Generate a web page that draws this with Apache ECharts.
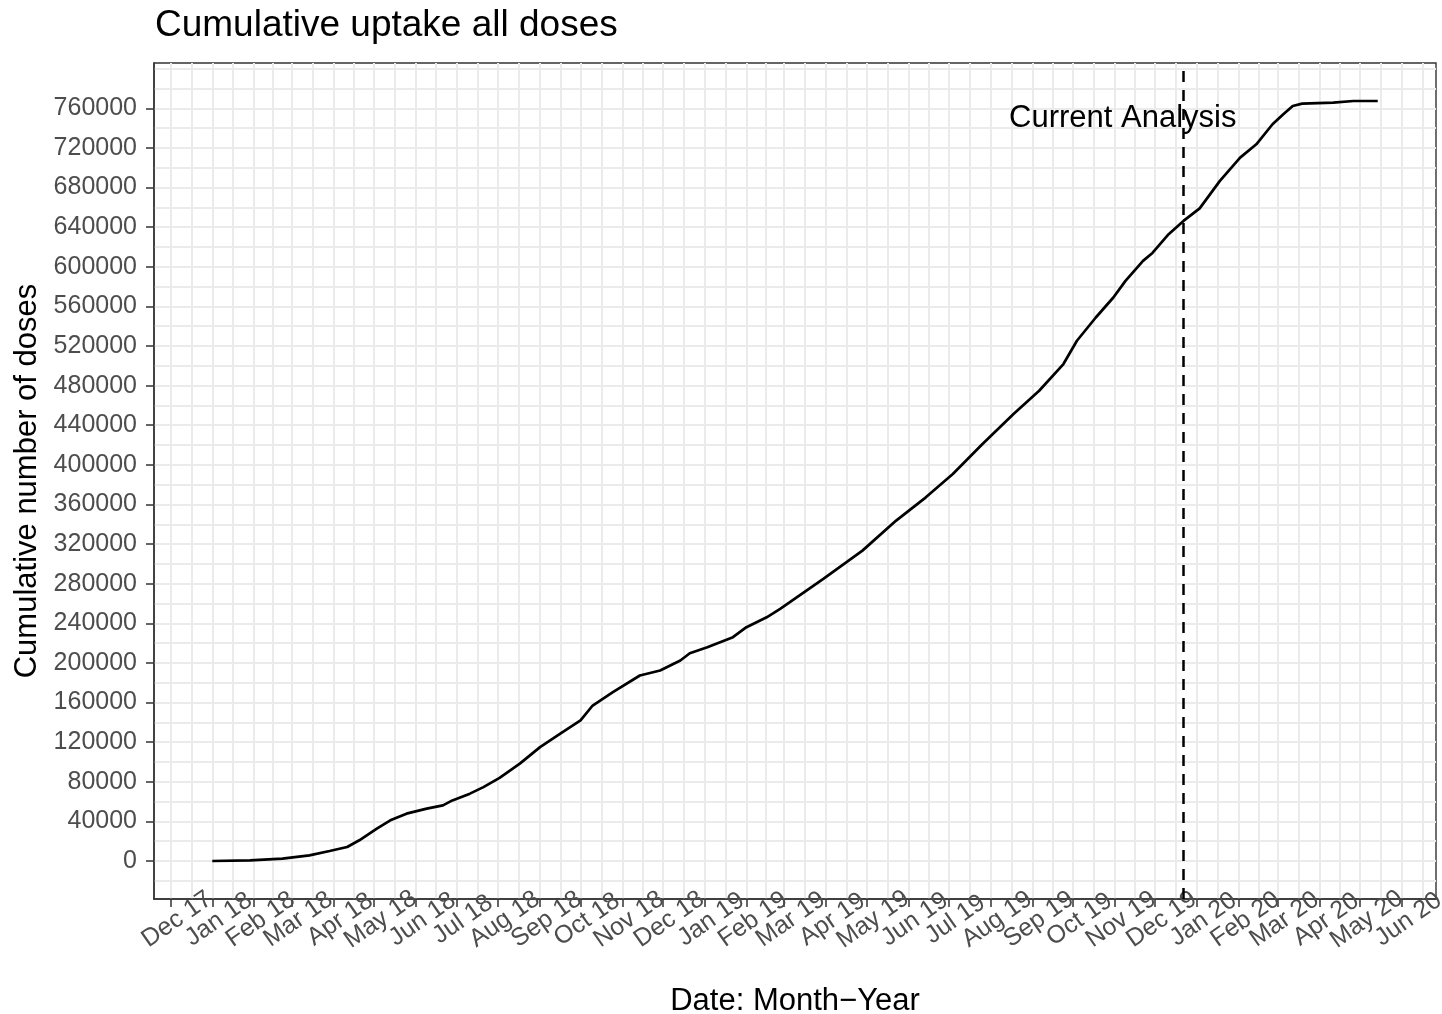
<!DOCTYPE html>
<html>
<head>
<meta charset="utf-8">
<script src="https://cdn.jsdelivr.net/npm/echarts@6/dist/echarts.min.js"></script>
<style>
html,body{margin:0;padding:0;background:#ffffff;}
#chart{width:1442px;height:1014px;}
</style>
</head>
<body>
<div id="chart"></div>
<script>
// ---------------- data ----------------
const chartTitle = 'Cumulative uptake all doses';
const xAxisTitle = 'Date: Month\u2212Year';
const yAxisTitle = 'Cumulative number of doses';

const dates = [
  '2018-01-01','2018-01-29','2018-02-22','2018-03-14','2018-03-29','2018-04-11','2018-04-20',
  '2018-05-03','2018-05-13','2018-05-25','2018-06-09','2018-06-21','2018-06-28','2018-07-11',
  '2018-07-21','2018-08-02','2018-08-17','2018-09-01','2018-09-16','2018-10-01','2018-10-10',
  '2018-10-25','2018-11-14','2018-11-29','2018-12-14','2018-12-21','2019-01-03','2019-01-22',
  '2019-02-01','2019-02-16','2019-02-26','2019-03-30','2019-04-28','2019-05-23','2019-06-14',
  '2019-07-04','2019-07-26','2019-08-18','2019-09-06','2019-09-24','2019-10-04','2019-10-18',
  '2019-10-31','2019-11-09','2019-11-22','2019-11-29','2019-12-11','2019-12-22','2020-01-03',
  '2020-01-18','2020-02-02','2020-02-14','2020-02-26','2020-03-05','2020-03-12','2020-03-19',
  '2020-04-11','2020-04-26','2020-05-14'
];
const doses = [
  0, 700, 2400, 5700, 10100, 14100, 20900,
  32700, 41100, 47800, 52900, 56200, 61200, 68000,
  74600, 84000, 98300, 115000, 128500, 141900, 157000,
  170500, 187300, 192400, 202500, 209800, 215900, 226000,
  236100, 246100, 254600, 284900, 313400, 343700, 367200,
  390800, 421100, 451300, 474800, 501800, 525300, 548800,
  569000, 585800, 606000, 614000, 632900, 646300, 659000,
  686700, 710200, 723700, 743900, 754000, 762300, 764700,
  765700, 767400, 767400
];

const xTickDates = [
  '2017-12-01','2018-01-01','2018-02-01','2018-03-01','2018-04-01','2018-05-01','2018-06-01',
  '2018-07-01','2018-08-01','2018-09-01','2018-10-01','2018-11-01','2018-12-01','2019-01-01',
  '2019-02-01','2019-03-01','2019-04-01','2019-05-01','2019-06-01','2019-07-01','2019-08-01',
  '2019-09-01','2019-10-01','2019-11-01','2019-12-01','2020-01-01','2020-02-01','2020-03-01',
  '2020-04-01','2020-05-01','2020-06-01'
];
const xTickLabels = [
  'Dec 17','Jan 18','Feb 18','Mar 18','Apr 18','May 18','Jun 18',
  'Jul 18','Aug 18','Sep 18','Oct 18','Nov 18','Dec 18','Jan 19',
  'Feb 19','Mar 19','Apr 19','May 19','Jun 19','Jul 19','Aug 19',
  'Sep 19','Oct 19','Nov 19','Dec 19','Jan 20','Feb 20','Mar 20',
  'Apr 20','May 20','Jun 20'
];
const yTickValues = [0,40000,80000,120000,160000,200000,240000,280000,320000,360000,
  400000,440000,480000,520000,560000,600000,640000,680000,720000,760000];

const currentAnalysisDate = '2019-12-22';
const annotationText = 'Current Analysis';
const annotationDate = '2019-11-07';
const annotationValue = 750000;

// ---------------- helpers ----------------
function toMs(s){ const p = s.split('-').map(Number); return Date.UTC(p[0], p[1]-1, p[2]); }
function minorBetween(major){
  const d = major[1]-major[0];
  const ext = [major[0]-d].concat(major, [major[major.length-1]+d]);
  const out = [];
  for (let i=0;i<ext.length-1;i++){ out.push(ext[i] + (ext[i+1]-ext[i])/2); }
  out.push(ext[0]); out.push(ext[ext.length-1]);
  return out;
}

const xs = dates.map(toMs);
const xSpan = xs[xs.length-1]-xs[0];
const xMin = xs[0]-0.05*xSpan;
const xMax = xs[xs.length-1]+0.05*xSpan;
const yLo = Math.min.apply(null, doses), yHi = Math.max.apply(null, doses);
const yMin = yLo-0.05*(yHi-yLo);
const yMax = yHi+0.05*(yHi-yLo);

const xTickMs = xTickDates.map(toMs);
const xLabelsEven = xTickMs.filter((v,i) => i%2===0);
const xLabelsOdd = xTickMs.filter((v,i) => i%2===1);
const xMinorMs = minorBetween(xTickMs).filter(v => v>xMin && v<xMax);
const yMinor = minorBetween(yTickValues).filter(v => v>yMin && v<yMax);

const FONT = '"Liberation Sans", Arial, Helvetica, sans-serif';
const GRID_COLOR = '#EBEBEB';
const AXIS_COLOR = '#333333';

function xLabelFormatter(v){ const i = xTickMs.indexOf(v); return i>=0 ? xTickLabels[i] : ''; }
function xLabelStyle(values){
  return {
    show: true, customValues: values, rotate: 35, margin: 25,
    showMinLabel: true, showMaxLabel: true, hideOverlap: false,
    align: 'center', verticalAlign: 'middle', padding: [0, 0, 0, 16],
    fontFamily: FONT, fontSize: 25, color: '#4D4D4D',
    formatter: xLabelFormatter
  };
}

const chart = echarts.init(document.getElementById('chart'), null, {renderer:'canvas'});
chart.setOption({
  animation: false,
  backgroundColor: '#ffffff',
  textStyle: { fontFamily: FONT },
  title: {
    text: chartTitle,
    left: 150, top: 2,
    textStyle: { fontFamily: FONT, fontSize: 37, fontWeight: 'normal', color: '#000000' }
  },
  grid: {
    left: 154, right: 6, top: 63, bottom: 115,
    show: true, borderColor: AXIS_COLOR, borderWidth: 1.4, backgroundColor: '#ffffff',
    containLabel: false, outerBoundsMode: 'none'
  },
  xAxis: [
    {
      type: 'value', min: xMin, max: xMax, position: 'bottom',
      name: xAxisTitle, nameLocation: 'middle', nameGap: 102,
      nameTextStyle: { fontFamily: FONT, fontSize: 31, color: '#000000', align: 'center', verticalAlign: 'middle' },
      axisLine: { show: true, onZero: false, lineStyle: { color: AXIS_COLOR, width: 1.5 } },
      axisTick: { show: true, length: 8, lineStyle: { color: AXIS_COLOR, width: 1.5 }, customValues: xTickMs },
      axisLabel: xLabelStyle(xLabelsEven),
      splitLine: { show: true, lineStyle: { color: GRID_COLOR, width: 2 } }
    },
    {
      type: 'value', min: xMin, max: xMax, position: 'bottom',
      axisLine: { show: false }, axisLabel: { show: false },
      axisTick: { show: false, customValues: xMinorMs },
      splitLine: { show: true, lineStyle: { color: GRID_COLOR, width: 2 } }
    },
    {
      type: 'value', min: xMin, max: xMax, position: 'bottom',
      axisLine: { show: false },
      axisTick: { show: false, customValues: xLabelsOdd },
      axisLabel: xLabelStyle(xLabelsOdd),
      splitLine: { show: false }
    }
  ],
  yAxis: [
    {
      type: 'value', min: yMin, max: yMax, position: 'left',
      name: yAxisTitle, nameLocation: 'middle', nameGap: 127, nameRotate: 90,
      nameTextStyle: { fontFamily: FONT, fontSize: 31, color: '#000000', align: 'center', verticalAlign: 'middle' },
      axisLine: { show: true, onZero: false, lineStyle: { color: AXIS_COLOR, width: 1.5 } },
      axisTick: { show: true, length: 8, lineStyle: { color: AXIS_COLOR, width: 1.5 }, customValues: yTickValues },
      axisLabel: {
        show: true, customValues: yTickValues, margin: 17,
        fontFamily: FONT, fontSize: 25, color: '#4D4D4D',
        formatter: function(v){ return String(v); }
      },
      splitLine: { show: true, lineStyle: { color: GRID_COLOR, width: 2 } }
    },
    {
      type: 'value', min: yMin, max: yMax, position: 'left',
      axisLine: { show: false }, axisLabel: { show: false },
      axisTick: { show: false, customValues: yMinor },
      splitLine: { show: true, lineStyle: { color: GRID_COLOR, width: 2 } }
    }
  ],
  series: [
    {
      type: 'line', xAxisIndex: 0, yAxisIndex: 0,
      data: xs.map((x,i) => [x, doses[i]]),
      showSymbol: false, symbol: 'none', smooth: false,
      lineStyle: { color: '#000000', width: 2.7 },
      z: 3,
      markLine: {
        silent: true, symbol: 'none', animation: false,
        label: { show: false },
        lineStyle: { color: '#000000', width: 2.5, type: [11, 8] },
        data: [ { xAxis: toMs(currentAnalysisDate) } ]
      }
    },
    {
      type: 'scatter', xAxisIndex: 0, yAxisIndex: 0,
      data: [[toMs(annotationDate), annotationValue]],
      symbolSize: 0, z: 4, silent: true,
      itemStyle: { opacity: 1, color: '#000000' },
      label: {
        show: true, position: 'inside', formatter: annotationText, opacity: 1,
        textBorderWidth: 0, fontFamily: FONT, fontSize: 31, color: '#000000',
        align: 'center', verticalAlign: 'middle'
      }
    }
  ]
});
</script>
</body>
</html>
